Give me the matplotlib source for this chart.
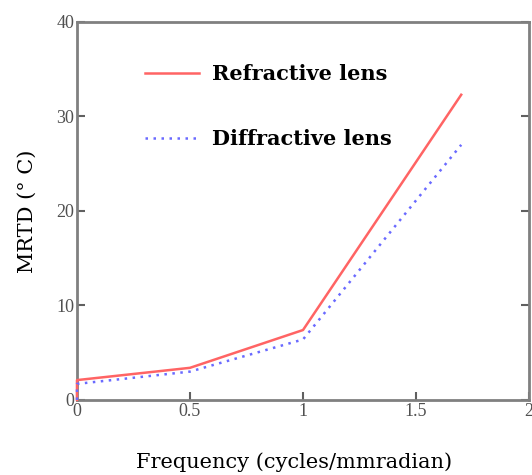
import matplotlib.pyplot as plt

# values
freq = [0, 0, 0.5, 1.0, 1.7]
refractive = [0, 2.1, 3.4, 7.4, 32.3]
diffractive = [0, 1.7, 3.0, 6.4, 27.0]

x_ticks = [0, 0.5, 1, 1.5, 2]
x_labels = ['0', '0.5', '1', '1.5', '2']
y_ticks = [0, 10, 20, 30, 40]

plt.rcParams['font.family'] = ['Liberation Serif', 'DejaVu Serif']

fig = plt.figure(figsize=(5.32, 4.75), dpi=100)
ax = fig.add_axes([0.1447, 0.158, 0.8497, 0.7957])

ax.plot(freq, refractive, color='#ff6464', lw=1.8, label='Refractive lens',
        zorder=3, clip_on=False)
ax.plot(freq, diffractive, color='#6a6aff', lw=1.8, dashes=(1, 2.2),
        label='Diffractive lens', zorder=3, clip_on=False)

ax.set_xlim(0, 2)
ax.set_ylim(0, 40)
ax.set_xticks(x_ticks)
ax.set_xticklabels(x_labels)
ax.set_yticks(y_ticks)

for s in ax.spines.values():
    s.set_color('#808080')
    s.set_linewidth(2)
    s.set_zorder(2)

ax.tick_params(direction='in', length=6, width=1.5, color='#606060',
               labelsize=13, labelcolor='#505050', pad=2,
               left=True, right=True, bottom=True, top=False)

ax.set_xlabel('Frequency (cycles/mmradian)', fontsize=15,
              family='DejaVu Serif')
ax.xaxis.set_label_coords(0.48, -0.138)
ax.set_ylabel('MRTD (° C)', fontsize=15, family='DejaVu Serif', labelpad=14)

leg = ax.legend(loc='upper left', bbox_to_anchor=(0.15, 0.888), frameon=False,
                borderpad=0, borderaxespad=0, handlelength=2.6,
                handletextpad=0.65, labelspacing=2.15,
                prop={'weight': 'bold', 'size': 15, 'family': 'DejaVu Serif'})

plt.savefig('out.png', dpi=100)
